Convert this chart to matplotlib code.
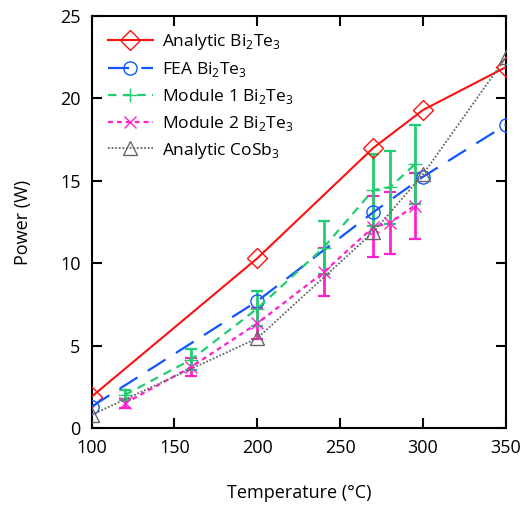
import numpy as np
import matplotlib
matplotlib.use("Agg")
import matplotlib.pyplot as plt

plt.rcParams['font.family'] = ['Open Sans', 'DejaVu Sans']
plt.rcParams['mathtext.fontset'] = 'custom'
plt.rcParams['mathtext.rm'] = 'Open Sans'

# Analytic Bi2Te3
t_an = [100, 200, 270, 300, 350]
p_an = [1.9, 10.3, 17.0, 19.3, 21.9]

# FEA Bi2Te3
t_fea = [100, 200, 270, 300, 350]
p_fea = [1.3, 7.7, 13.1, 15.25, 18.4]

# Module 1 Bi2Te3 (mean and error)
t_m1 = [120, 160, 200, 240, 270, 280, 295]
p_m1 = [2.0, 4.15, 7.25, 10.95, 14.45, 14.6, 16.0]
e_m1 = [0.28, 0.65, 1.05, 1.6, 2.2, 2.2, 2.4]

# Module 2 Bi2Te3 (mean and error)
t_m2 = [120, 160, 200, 240, 270, 280, 295]
p_m2 = [1.5, 3.7, 6.35, 9.45, 12.2, 12.45, 13.5]
e_m2 = [0.27, 0.57, 0.95, 1.45, 1.85, 1.9, 2.0]

# Analytic CoSb3
t_co = [100, 200, 270, 300, 350]
p_co = [0.8, 5.45, 11.9, 15.4, 22.5]

red = '#ff1010'
blue = '#1155ff'
green = '#22cc70'
pink = '#ff22cc'
grey = '#666666'

fig = plt.figure(figsize=(5.23, 5.09), dpi=100)
ax = fig.add_axes([0.175, 0.159, 0.7925, 0.8096])

ax.errorbar(t_m2, p_m2, yerr=e_m2, fmt='none', ecolor=pink, elinewidth=2,
            capsize=4.5, capthick=1.6, zorder=2)
ax.errorbar(t_m1, p_m1, yerr=e_m1, fmt='none', ecolor=green, elinewidth=2,
            capsize=4.5, capthick=1.6, zorder=2.1)

ax.plot(t_an, p_an, color=red, lw=1.5, marker='D', ms=10.5, mfc='none', mec=red,
        mew=1.0, label='Analytic Bi$_2$Te$_3$', zorder=3)
ax.plot(t_fea, p_fea, color=blue, lw=1.6, dashes=(9.5, 5.5), marker='o', ms=9.5,
        mfc='none', mec=blue, mew=1.0, label='FEA Bi$_2$Te$_3$', zorder=3)
ax.plot(t_m1, p_m1, color=green, lw=1.6, dashes=(3.8, 2.8), marker='+', ms=10,
        mew=1.0, label='Module 1 Bi$_2$Te$_3$', zorder=3)
ax.plot(t_m2, p_m2, color=pink, lw=1.6, dashes=(2.2, 1.8), marker='x', ms=9,
        mew=1.0, label='Module 2 Bi$_2$Te$_3$', zorder=3)
ax.plot(t_co, p_co, color=grey, lw=1.3, dashes=(1, 1), marker='^', ms=10,
        mfc='none', mec=grey, mew=1.0, label='Analytic CoSb$_3$', zorder=3)

ax.set_xlim(100, 350)
ax.set_ylim(0, 25)
ax.set_xticks([100, 150, 200, 250, 300, 350])
ax.set_yticks([0, 5, 10, 15, 20, 25])
ax.tick_params(direction='in', length=7, width=1.5, top=True, right=True,
               labelsize=13)
ax.tick_params(axis='x', pad=8)
ax.tick_params(axis='y', pad=8)
for s in ax.spines.values():
    s.set_linewidth(1.5)

ax.set_xlabel('Temperature (°C)', fontsize=13, labelpad=19)
ax.set_ylabel('Power (W)', fontsize=13, labelpad=20)

ax.legend(loc='upper left', frameon=False, fontsize=12.5, handlelength=2.6,
          handletextpad=0.5, numpoints=1, borderaxespad=0.3, labelspacing=0.45,
          bbox_to_anchor=(0.01, 0.99))

fig.savefig('out.png', dpi=100)
